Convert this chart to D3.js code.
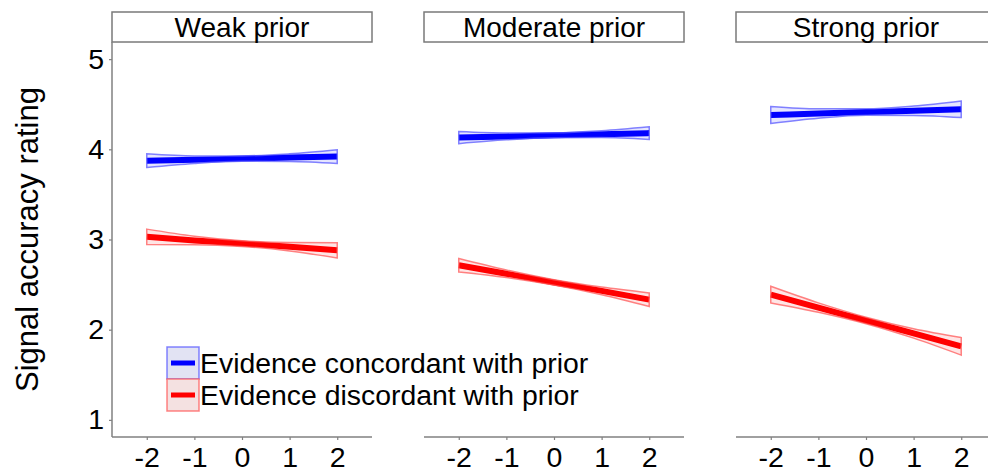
<!DOCTYPE html>
<html>
<meta charset="utf-8">
<head>
    <script src="https://d3js.org/d3.v7.min.js"></script>
</head>

<style>
  body { margin: 0; background: #fff; }
  svg text {
  font-family: "Liberation Sans", Arial, sans-serif;
  fill: #000;
  }
  svg .axis-line {
  stroke: #808080;
  stroke-width: 1.5;
  fill: none;
  }
  svg .strip {
  fill: #fff;
  stroke: #7a7a7a;
  stroke-width: 1.5;
  }
</style>

<body>
    <script>

        // data
        var panels = ["Weak prior", "Moderate prior", "Strong prior"];
        var evidence = [-2, -1, 0, 1, 2];
        var xTicks = [-2, -1, 0, 1, 2];
        var yTicks = [1, 2, 3, 4, 5];
        var seriesNames = ["Evidence concordant with prior", "Evidence discordant with prior"];

        // fitted rating, one row per panel
        var concordant = [
            [3.874, 3.885, 3.897, 3.908, 3.919],
            [4.130, 4.143, 4.155, 4.168, 4.180],
            [4.381, 4.397, 4.413, 4.428, 4.444]
        ];
        var discordant = [
            [3.030, 2.990, 2.955, 2.920, 2.880],
            [2.715, 2.620, 2.524, 2.430, 2.333],
            [2.389, 2.245, 2.102, 1.958, 1.815]
        ];
        // half width of the confidence band
        var concordantSe = [
            [0.076, 0.042, 0.030, 0.042, 0.076],
            [0.067, 0.038, 0.028, 0.038, 0.070],
            [0.094, 0.052, 0.036, 0.052, 0.092]
        ];
        var discordantSe = [
            [0.085, 0.047, 0.032, 0.047, 0.085],
            [0.075, 0.042, 0.030, 0.042, 0.075],
            [0.092, 0.052, 0.036, 0.052, 0.097]
        ];

        var width = 988,
            height = 472;

        var panelLeft = [112, 424, 736],
            panelWidth = 260,
            plotTop = 42,
            plotBottom = 437;

        var colors = ["#0000ff", "#ff0000"],
            bandFill = ["rgba(0,0,255,0.10)", "rgba(255,0,0,0.10)"],
            bandStroke = ["rgba(90,90,255,0.75)", "rgba(255,90,90,0.75)"],
            keyFill = ["#e2e3f3", "#f4e1e1"];

        var fmt = function(d) { return String(d); };

        var svg = d3.select("body").append("svg")
            .attr("width", width)
            .attr("height", height);

        var x = d3.scaleLinear().domain([-2.73, 2.73]).range([0, panelWidth]);
        var y = d3.scaleLinear().domain([0.81, 5.19]).range([plotBottom, plotTop]);

        var line = d3.line()
            .x(function(d) { return x(d.x); })
            .y(function(d) { return y(d.y); })
            .curve(d3.curveMonotoneX);

        var area = d3.area()
            .x(function(d) { return x(d.x); })
            .y0(function(d) { return y(d.y - d.se); })
            .y1(function(d) { return y(d.y + d.se); })
            .curve(d3.curveMonotoneX);

        panels.forEach(function(name, p) {
            var g = svg.append("g").attr("transform", "translate(" + panelLeft[p] + ",0)");

            // strip
            g.append("rect").attr("class", "strip")
                .attr("x", 0).attr("y", 12)
                .attr("width", panelWidth).attr("height", 30);
            g.append("text")
                .attr("x", panelWidth / 2).attr("y", 37)
                .attr("text-anchor", "middle")
                .style("font-size", "28px")
                .text(name);

            [concordant, discordant].forEach(function(series, s) {
                var se = s == 0 ? concordantSe : discordantSe;
                var pts = evidence.map(function(e, i) {
                    return {x: e, y: series[p][i], se: se[p][i]};
                });
                g.append("path")
                    .attr("d", line(pts))
                    .attr("fill", "none")
                    .attr("stroke", colors[s])
                    .attr("stroke-width", 6);
                g.append("path")
                    .attr("d", area(pts))
                    .attr("fill", bandFill[s])
                    .attr("stroke", bandStroke[s])
                    .attr("stroke-width", 1.5);
            });

            // x axis
            var xa = g.append("g").attr("transform", "translate(0," + plotBottom + ")")
                .call(d3.axisBottom(x).tickValues(xTicks).tickFormat(fmt)
                    .tickSize(3).tickSizeOuter(0).tickPadding(7));
            xa.select(".domain").attr("class", "axis-line").attr("d", "M0,0H" + panelWidth);
            xa.selectAll(".tick line").attr("stroke", "#808080").attr("stroke-width", 1.2);
            xa.selectAll(".tick text")
                .style("font-size", "28.5px")
                .attr("fill", "#000");
        });

        // y axis on first panel only
        var ya = svg.append("g").attr("transform", "translate(" + panelLeft[0] + ",0)")
            .call(d3.axisLeft(y).tickValues(yTicks).tickFormat(fmt)
                .tickSize(3).tickSizeOuter(0).tickPadding(5));
        ya.select(".domain").attr("class", "axis-line").attr("d", "M0," + plotTop + "V" + plotBottom);
        ya.selectAll(".tick line").attr("stroke", "#808080").attr("stroke-width", 1.2);
        ya.selectAll(".tick text")
            .style("font-size", "28.5px")
            .attr("fill", "#000");

        svg.append("text")
            .attr("transform", "translate(27," + ((plotTop + plotBottom) / 2) + ") rotate(-90)")
            .attr("text-anchor", "middle")
            .attr("dominant-baseline", "central")
            .style("font-size", "31px")
            .text("Signal accuracy rating");

        // legend
        var legend = svg.append("g").attr("transform", "translate(167,347)");
        seriesNames.forEach(function(name, s) {
            var row = legend.append("g").attr("transform", "translate(0," + (s * 32) + ")");
            row.append("rect")
                .attr("width", 32).attr("height", 32)
                .attr("fill", keyFill[s])
                .attr("stroke", bandStroke[s])
                .attr("stroke-width", 1.5);
            row.append("line")
                .attr("x1", 4).attr("x2", 28)
                .attr("y1", 16).attr("y2", 16)
                .attr("stroke", colors[s])
                .attr("stroke-width", 5);
            row.append("text")
                .attr("x", 33).attr("y", 16)
                .attr("dominant-baseline", "central")
                .style("font-size", "28.4px")
                .text(name);
        });
    </script>
</body>
</html>
